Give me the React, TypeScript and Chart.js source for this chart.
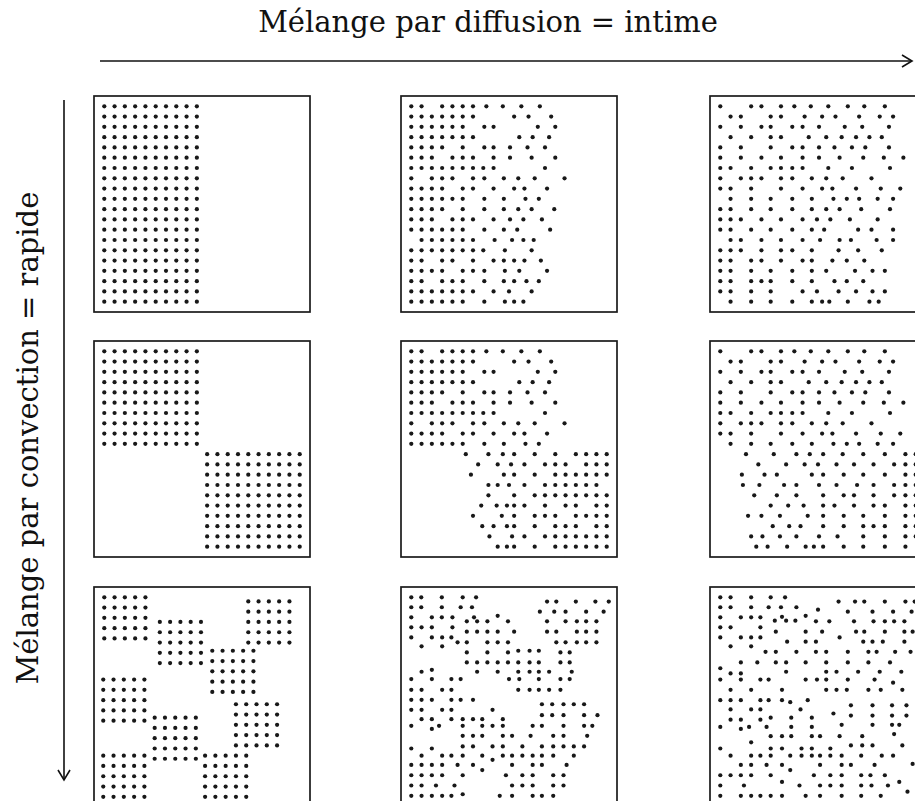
import React, { useEffect, useRef } from "react";
import { Chart, registerables } from "chart.js";

Chart.register(...registerables);

// ---- Text ----
const TITLE_TOP = "Mélange par diffusion = intime";
const TITLE_LEFT = "Mélange par convection = rapide";

// ---- Data: each row "y|x x x ..." in lattice units (20 x 20 lattice, 0..19) ----
const PANEL_R1C1: string[] = [
  "0|0 1 2 3 4 5 6 7 8 9", "1|0 1 2 3 4 5 6 7 8 9", "2|0 1 2 3 4 5 6 7 8 9",
  "3|0 1 2 3 4 5 6 7 8 9", "4|0 1 2 3 4 5 6 7 8 9", "5|0 1 2 3 4 5 6 7 8 9",
  "6|0 1 2 3 4 5 6 7 8 9", "7|0 1 2 3 4 5 6 7 8 9", "8|0 1 2 3 4 5 6 7 8 9",
  "9|0 1 2 3 4 5 6 7 8 9", "10|0 1 2 3 4 5 6 7 8 9", "11|0 1 2 3 4 5 6 7 8 9",
  "12|0 1 2 3 4 5 6 7 8 9", "13|0 1 2 3 4 5 6 7 8 9", "14|0 1 2 3 4 5 6 7 8 9",
  "15|0 1 2 3 4 5 6 7 8 9", "16|0 1 2 3 4 5 6 7 8 9", "17|0 1 2 3 4 5 6 7 8 9",
  "18|0 1 2 3 4 5 6 7 8 9", "19|0 1 2 3 4 5 6 7 8 9",
];

const PANEL_R2C1: string[] = [
  "0|0 1 2 3 4 5 6 7 8 9", "1|0 1 2 3 4 5 6 7 8 9", "2|0 1 2 3 4 5 6 7 8 9",
  "3|0 1 2 3 4 5 6 7 8 9", "4|0 1 2 3 4 5 6 7 8 9", "5|0 1 2 3 4 5 6 7 8 9",
  "6|0 1 2 3 4 5 6 7 8 9", "7|0 1 2 3 4 5 6 7 8 9", "8|0 1 2 3 4 5 6 7 8 9",
  "9|0 1 2 3 4 5 6 7 8 9",
  "10|10 11 12 13 14 15 16 17 18 19", "11|10 11 12 13 14 15 16 17 18 19",
  "12|10 11 12 13 14 15 16 17 18 19", "13|10 11 12 13 14 15 16 17 18 19",
  "14|10 11 12 13 14 15 16 17 18 19", "15|10 11 12 13 14 15 16 17 18 19",
  "16|10 11 12 13 14 15 16 17 18 19", "17|10 11 12 13 14 15 16 17 18 19",
  "18|10 11 12 13 14 15 16 17 18 19", "19|10 11 12 13 14 15 16 17 18 19",
];

const PANEL_R3C1: string[] = [
  "0|0 1 2 3 4", "1|0 1 2 3 4", "2|0 1 2 3 4", "3|0 1 2 3 4", "4|0 1 2 3 4",
  "0.4|14 15 16 17 18", "1.4|14 15 16 17 18",
  "2.4|5.4 6.4 7.4 8.4 9.4 14 15 16 17 18",
  "3.4|5.4 6.4 7.4 8.4 9.4 14 15 16 17 18",
  "4.4|5.4 6.4 7.4 8.4 9.4 14 15 16 17 18",
  "5.4|5.4 6.4 7.4 8.4 9.4", "6.4|5.4 6.4 7.4 8.4 9.4",
  "5.2|10.5 11.5 12.5 13.5 14.5", "6.2|10.5 11.5 12.5 13.5 14.5",
  "7.2|10.5 11.5 12.5 13.5 14.5", "8.2|10.5 11.5 12.5 13.5 14.5",
  "9.2|10.5 11.5 12.5 13.5 14.5",
  "8|-0.1 0.9 1.9 2.9 3.9", "9|-0.1 0.9 1.9 2.9 3.9", "10|-0.1 0.9 1.9 2.9 3.9",
  "11|-0.1 0.9 1.9 2.9 3.9", "12|-0.1 0.9 1.9 2.9 3.9",
  "10.4|12.8 13.8 14.8 15.8 16.8", "11.4|12.8 13.8 14.8 15.8 16.8",
  "12.4|12.8 13.8 14.8 15.8 16.8", "13.4|12.8 13.8 14.8 15.8 16.8",
  "14.4|12.8 13.8 14.8 15.8 16.8",
  "11.7|4.9 5.9 6.9 7.9 8.9", "12.7|4.9 5.9 6.9 7.9 8.9", "13.7|4.9 5.9 6.9 7.9 8.9",
  "14.7|4.9 5.9 6.9 7.9 8.9", "15.7|4.9 5.9 6.9 7.9 8.9",
  "15.4|-0.1 0.9 1.9 2.9 3.9 9.8 10.8 11.8 12.8 13.8",
  "16.4|-0.1 0.9 1.9 2.9 3.9 9.8 10.8 11.8 12.8 13.8",
  "17.4|-0.1 0.9 1.9 2.9 3.9 9.8 10.8 11.8 12.8 13.8",
  "18.4|-0.1 0.9 1.9 2.9 3.9 9.8 10.8 11.8 12.8 13.8",
  "19.4|-0.1 0.9 1.9 2.9 3.9 9.8 10.8 11.8 12.8 13.8",
];

const DIFF_TOP_C2: string[] = [
  "0|0 1 3 4 5 6 7.3 8.9 10.7 12.5",
  "1|0 1 2 3 4 5 6 10 11.4 13.6",
  "2|0 1 2 3 4 5 7.1 8 12.3 14",
  "3|0 1 2 3 4 5 6 10.5 11.8 13.4",
  "4|0 1 2 3 5 7.1 8 9.6 11.3 13",
  "5|0 1 2 4 5 6 8 9.6 11.7 14",
  "6|0 1 2 3 4 5 6 7 8 13",
  "7|0 2 3 4 6 7.1 9 10.4 12 14.9",
  "8|0 1 2 3 5 6 8 10 11 13.2",
  "9|0 1 2 3 4 5 7.1 9 11.1 12.4",
];

const LOWER_R1C2: string[] = [
  "10|0 1 2 3 5 7.1 9 10.4 11.7 13.9",
  "11|0 1 2 4 5 6 8 9.6 10.9 12.7",
  "12|0 1 2 3 4 5 7.1 9 10.3 13.5",
  "13|1 2 3 4 5 6 8.1 9.8 10.9 11.9",
  "14|0 1 2 3 4 5 6 7 9.1 11.7",
  "15|0 1 3 4 6 8 9 10 11 12.6",
  "16|0 1 2 3 5 6 7.1 9.1 10.5 13.2",
  "17|0 1 3 4 5 7.1 9 10 11.2 12.4",
  "18|0 1 2 3 4 5 6 8 9.5 11.7",
  "19|0 1 2 3 4 5 7.1 9.1 10 10.9",
];

const LOWER_R2C2: string[] = [
  "10|5.3 7.5 8.9 10 12 14 16 17 18 19",
  "11|6.5 8.4 9.7 11 13 14 15 17 18 19",
  "12|5.8 9 10 12 14 15 16 17 18 19",
  "13|7.5 8.4 9.5 11 13 14 15 16 17 18",
  "14|7.5 10 12 13 14 15 16 17 18 19",
  "15|6.8 8.3 9.3 10 11 13 15 16 18 19",
  "16|6 8.8 10 12 13 14 16 17 18 19",
  "17|6.9 8 9.3 10 12 14 15 16 18 19",
  "18|7.6 9.8 11 13 14 15 16 17 18 19",
  "19|8.4 9.3 10 12 14 15 16 17 18 19",
];

const PANEL_R3C2: string[] = [
  "0|0 0.97 2.97 5 6.3",
  "0.42|13.2 14.1 16 17.9 19.2",
  "0.97|0 0.97 2.97 4.8 5.9",
  "1.4|12.5 13.9 15 17 18.7",
  "1.8|8.4",
  "1.95|0 2 2.97 4 6.1",
  "2.34|5.4 6.4 7.4 9.4 13.2 15 16.1 17 18",
  "2.92|0 1 2 4",
  "3.34|5.4 6.4 7.4 8.4 10 13.2 14.1 16.1 17 18",
  "3.9|0 2 3 3.9",
  "4.38|4.5 5.4 7.4 8.4 9.4 14.1 15 16.1 17 18",
  "4.77|1 3",
  "5.2|10.4 11.5 12.4",
  "5.36|5.4 7.4 9.4 14.5 15.4",
  "6.33|5.4 6.4 7.4 8.4 9.4 10.4 11.5 12.4 14.5 15.4",
  "7.05|2",
  "7.24|1 6.4 8.4 10.4 11.5 12.4 13.4 15.6",
  "7.95|0 2 3.9 4.8 9.5 10.5 12.4 14.5 15.4",
  "9|0 1 3 3.9 10.4 11.5 12.4 13.4 14.5",
  "9.97|0 1 2 3.9 4.8 6",
  "10.4|12.7 13.7 14.8 15.8 16.8",
  "10.94|0 1 3 3.9 7.9",
  "11.46|12.7 13.7 14.8 16.8 18.1",
  "11.85|1 2 3.9 5 6 6.9 8.9",
  "12.5|0 2.7 5 6.9 7.9 8.9 11.8 12.7 14.8 16.8 17.6",
  "12.8|2",
  "13.47|5 6 6.9 8.9 9.8 11.6 13.8 14.8 17.1",
  "14.5|5 6 7.9 8.9 10.8 12.7 13.8 14.8 15.8 16.8",
  "14.7|0 2",
  "15.4|1 3 3.9 5 6.9 8.9 9.8 10.8 11.8 12.7 13.8 15.8",
  "15.8|7.9",
  "16.3|0 1 2 3 4.5 6 9.8 11.8 12.7 15.1",
  "16.8|6.9",
  "17.3|0 1 2 3 5 9.2 10.8 11.8 13.8 14.8",
  "18.3|0 1 2.4 4.2 9.8 10.8 11.8 13.8 14.8",
  "19.15|5",
  "19.3|0 1 2 3 3.9 8.6 9.8 11.8 12.7 13.8",
];

const DIFF_TOP_C3: string[] = [
  "0|0 3 4 5.9 7.2 8.8 10.5 12.4 14 16",
  "1|1 2 4.9 5.9 8.2 9.9 11.2 13.5 15.5 16.8",
  "2|0 2 4 4.9 7 8 9.6 12.1 13.8 16.4",
  "3|1 3 4.9 5.9 8.6 10.3 11.8 13.2 14.5 15.7",
  "4|0 2 4.9 7 8 9.6 11.1 12.8 14.1 16.4",
  "5|0 2 4 5.9 8 9.6 11.6 13.9 15.9 17.8",
  "6|0 1 3 4.9 5.9 7 8 10.5 12.8 16.5",
  "7|0 2 3 4 5.9 7 8.9 10.3 11.9 14.7",
  "8|0 1 3 5.9 8 9.9 10.9 13.2 15.6 17.5",
  "9|1 3 4.9 7 8.9 11 12.3 13.5 15.3 16.8",
];

const LOWER_R1C3: string[] = [
  "10|0 1 3 4.9 7 8.9 10.3 11.6 13.7 16.5",
  "11|0 1 2 4 5.9 8 9.4 10.7 12.6 15.3",
  "12|0 1 3 4.9 7 8.9 10.1 13.4 14.7 16.8",
  "13|1 2 4 5.9 8 9.7 11.6 12.7 15.2 16.8",
  "14|0 1 2 4 5.9 7 8.9 11.5 13.4 15.7",
  "15|0 1 3 4 5.9 8 8.9 10.9 12.3 14",
  "16|0 1 3 4.9 7 8.9 10.3 13.1 14.8 16",
  "17|0 1 3 4 4.9 7 8.9 11.1 12.3 13.9",
  "18|0 1 3 4.9 8 9.4 11.5 13.2 14.8 16",
  "19|1 3 4.9 7 8.9 9.9 10.6 12.4 14.5 15.4",
];

const LOWER_R2C3: string[] = [
  "10|2.5 5.2 7.4 8.7 10 11.9 13.9 16 18 19",
  "11|3.7 6.4 8.2 9.5 11.3 13 14.9 16.9 18 19",
  "12|2.1 4.3 5.5 8.9 10 12 13.9 16 18 19",
  "13|2.2 3.8 6.2 7.4 9.6 11.3 13.3 14.9 16.9 18 19",
  "14|3.3 5.5 7.4 10 12 13 14.9 16.9 18 19",
  "15|4.9 6.6 8.1 10 11.1 13 14.9 16 18 19",
  "16|2.7 4 5.8 8.5 10 12 13.9 16 18 19",
  "17|5.1 6.7 7.8 10 12 13.9 14.9 16 18 19",
  "18|3 4.1 5.8 7.4 9.6 11.4 13.9 16 18 19",
  "19|3.5 4.6 6.5 8.3 9.1 10 12 13.9 16 18",
];

const PANEL_R3C3: string[] = [
  "0|0 1 3 4.9 6.3",
  "0.42|11.5 13.1 14 16 18 18.9",
  "0.97|0 1 3 4.7 5.9 7.4",
  "1.2|9.5",
  "1.4|12.4 14.8 16.8 18.6",
  "1.8|8.3",
  "1.9|6",
  "1.95|0 2 3 3.9",
  "2.27|5.3 6.4 7.3",
  "2.34|9.3 10.6 13 14.9 16 16.9 17.9",
  "2.92|0 1 3.9",
  "3.34|5.4 8.3 9.9 13.2 14 16 17.9 18.7",
  "3.9|0 2 3 3.9 11.6",
  "4.32|6.5 8.3 9.3 13.9 14.8 15.8 17.9",
  "4.77|1 3",
  "5.3|4.4 5.4 7.4 9.3 10.3 12.4 14.4 15.2 17 18.5",
  "6.33|2 3.6 5.4 6.4 8.3 10.3 12.4 14.4 16.5",
  "6.9|0",
  "7.24|6.4 10.3 11.3 13.4 15.5 17.6",
  "7.4|1 2",
  "8|0 2 3.9 4.7 8.3 9.4 10.3 12.4 15",
  "8.3|16.8",
  "9|1 3 6 10.3 11.3 12.3 14.4 15.6 17.7",
  "10|0 1 2 3.9 4.7 6 8.5",
  "10.2|6.8",
  "10.5|12.7 14.8 16.7 18.1",
  "10.9|1 3 3.9 7.8",
  "11.3|11",
  "11.5|12.7 14.8 16.7 18.1",
  "11.7|4.9 6.9 8.9",
  "11.9|1 2 3.9",
  "12.4|11.8 14.8 16.7 17.4",
  "12.6|0 2.8 4.5 6.9 8.9",
  "12.8|2",
  "13.3|16.9",
  "13.5|4.9 6 6.9 8.9 9.7 11.6 13.8",
  "14.1|3",
  "14.4|12.7 13.8 14.8 17.7",
  "14.7|0 4.9 6 7.9 8.9 10.7",
  "15.4|1 3 3.9 4.9 6.8 7.9 8.9 9.7 10.7 11.8 13.7 15.7 16.8",
  "16.2|18.7",
  "16.3|2 3 4.5 6 9.7 11.8 12.7 15",
  "16.8|6.8",
  "17.3|0 1 2 3 4.9 9.1 10.7 11.8 13.7 14.6 16",
  "17.95|6 17.4",
  "18.3|0 2.3 7.7 9.7 10.7 11.8 13.7 14.7 16.3",
  "18.9|18.2",
  "19.3|0 2 3 3.9 4.9 6 8.3 9.7 11.8 13.7 15.6",
];

const PANELS: string[][][] = [
  [PANEL_R1C1, [...DIFF_TOP_C2, ...LOWER_R1C2], [...DIFF_TOP_C3, ...LOWER_R1C3]],
  [PANEL_R2C1, [...DIFF_TOP_C2, ...LOWER_R2C2], [...DIFF_TOP_C3, ...LOWER_R2C3]],
  [PANEL_R3C1, PANEL_R3C2, PANEL_R3C3],
];

// ---- Layout ----
const COL_LEFT = [94, 401, 710];
const ROW_TOP = [96, 341, 587];
const BOX = 216;
const PAD = 3;

function parseRows(rows: string[]) {
  const pts: { x: number; y: number }[] = [];
  rows.forEach((r) => {
    const [ys, xs] = r.split("|");
    const y = parseFloat(ys);
    xs.trim().split(/\s+/).forEach((v) => pts.push({ x: parseFloat(v), y }));
  });
  return pts;
}

const framePlugin = {
  id: "frame",
  afterDraw(chart: any) {
    const { ctx, chartArea: a } = chart;
    ctx.save();
    ctx.strokeStyle = "#1a1a1a";
    ctx.lineWidth = 1.7;
    ctx.strokeRect(a.left, a.top, a.width, a.height);
    ctx.restore();
  },
};

function Panel({ rows, left, top }: { rows: string[]; left: number; top: number }) {
  const ref = useRef<HTMLCanvasElement | null>(null);
  useEffect(() => {
    if (!ref.current) return;
    const chart = new Chart(ref.current, {
      type: "scatter",
      data: {
        datasets: [
          {
            data: parseRows(rows),
            pointRadius: 2.1,
            pointBorderWidth: 0,
            pointBackgroundColor: "#181818",
            pointHoverRadius: 2.1,
          },
        ],
      },
      options: {
        animation: false,
        responsive: false,
        devicePixelRatio: 1,
        events: [],
        layout: { padding: PAD },
        plugins: { legend: { display: false }, tooltip: { enabled: false }, title: { display: false } },
        scales: {
          x: { type: "linear", min: -1, max: 20, display: false },
          y: { type: "linear", min: -1, max: 20, reverse: true, display: false },
        },
      },
      plugins: [framePlugin],
    });
    return () => chart.destroy();
  }, [rows]);
  return (
    <canvas
      ref={ref}
      width={BOX + 2 * PAD}
      height={BOX + 2 * PAD}
      style={{ position: "absolute", left: left - PAD, top: top - PAD, width: BOX + 2 * PAD, height: BOX + 2 * PAD }}
    />
  );
}

export default function App() {
  const font = "'DejaVu Serif', serif";
  return (
    <div
      style={{
        position: "fixed",
        left: 0,
        top: 0,
        width: 915,
        height: 801,
        overflow: "hidden",
        background: "#fff",
      }}
    >
      {PANELS.map((row, ri) =>
        row.map((rows, ci) => (
          <Panel key={`${ri}-${ci}`} rows={rows} left={COL_LEFT[ci]} top={ROW_TOP[ri]} />
        ))
      )}
      <div
        style={{
          position: "absolute",
          left: 488,
          top: 5,
          transform: "translateX(-50%)",
          whiteSpace: "nowrap",
          fontFamily: font,
          fontSize: 29,
          color: "#111",
        }}
      >
        {TITLE_TOP}
      </div>
      <div
        style={{
          position: "absolute",
          left: 28,
          top: 438,
          transform: "translate(-50%, -50%) rotate(-90deg)",
          whiteSpace: "nowrap",
          fontFamily: font,
          fontSize: 29,
          color: "#111",
        }}
      >
        {TITLE_LEFT}
      </div>
      <svg width={915} height={801} style={{ position: "absolute", left: 0, top: 0, pointerEvents: "none" }}>
        <line x1={100} y1={61} x2={912} y2={61} stroke="#111" strokeWidth={1.6} />
        <polyline points="902,55 912,61 902,67" fill="none" stroke="#111" strokeWidth={1.6} />
        <line x1={64} y1={100} x2={64} y2={780} stroke="#111" strokeWidth={1.6} />
        <polyline points="58,770 64,780 70,770" fill="none" stroke="#111" strokeWidth={1.6} />
      </svg>
    </div>
  );
}
